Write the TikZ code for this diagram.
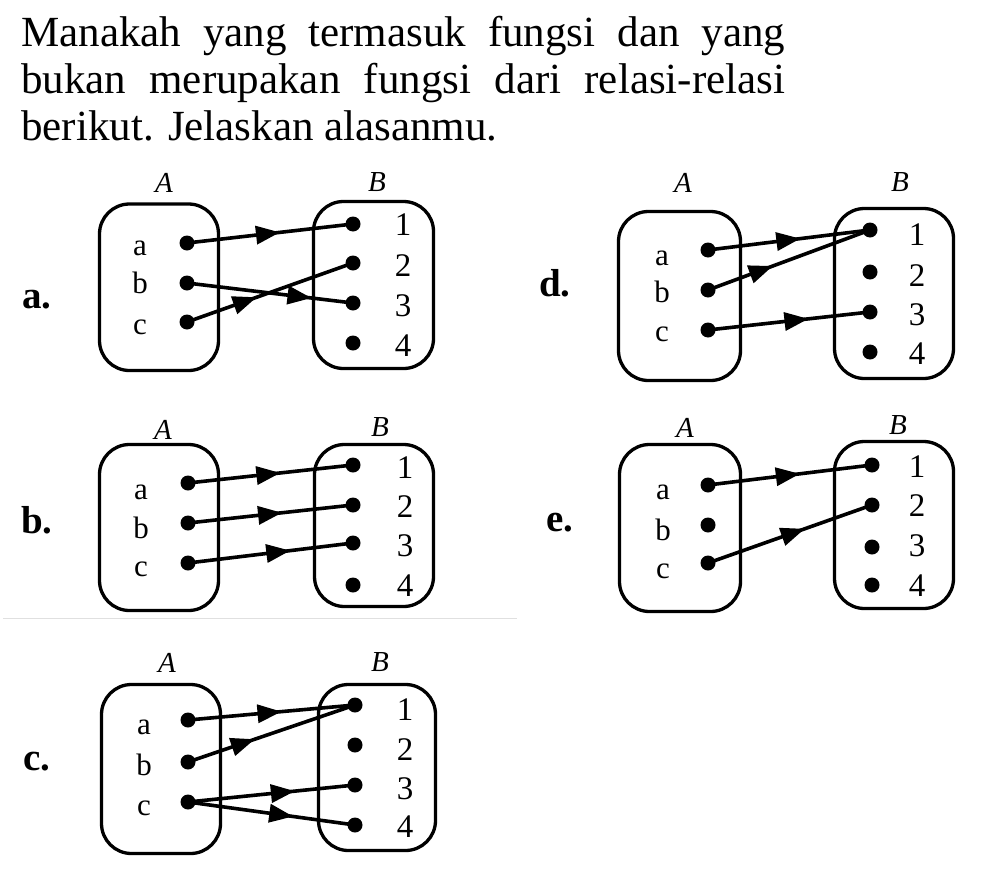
\documentclass[tikz,border=0pt]{standalone}
\usepackage{fontspec}
\setmainfont{Liberation Serif}
\usetikzlibrary{arrows.meta,decorations.markings}
\hyphenpenalty=10000
\exhyphenpenalty=10000
\begin{document}
\begin{tikzpicture}[x=1pt,y=-1pt,
  setbox/.style={draw, line width=3.3pt, rounded corners=30pt},
  dot/.style={circle, fill, inner sep=0pt, minimum size=15pt},
  lbl/.style={font=\fontsize{31}{31}\selectfont, inner sep=0pt},
  num/.style={font=\fontsize{33}{33}\selectfont, inner sep=0pt},
  setname/.style={font=\itshape\fontsize{29}{29}\selectfont, inner sep=0pt},
  item/.style={font=\bfseries\fontsize{39}{39}\selectfont, inner sep=0pt},
  mapto/.style={line width=3.6pt, postaction={decorate},
    decoration={markings, mark=at position #1 with {\arrow{Triangle[length=24pt,width=18pt]}}}}
]
\useasboundingbox[fill=white] (0,0) rectangle (1004,886);

% title
\node[anchor=north west, inner sep=0pt, text width=764pt, align=justify,
  font=\fontsize{43}{47}\selectfont] (title) at (21,16)
  {Manakah yang termasuk fungsi dan yang\linebreak bukan merupakan fungsi dari relasi-relasi\linebreak berikut. Jelaskan alasanmu.};

% faint scan line
\draw[black!12, line width=1pt] (3,618) -- (517,618);

% ---------- a ----------
\draw[setbox] (99.5,204) rectangle (218.5,370.5);
\draw[setbox] (313.5,201.5) rectangle (433.5,368.5);
\node[setname] (aA) at (164,183) {A};
\node[setname] (aB) at (377,182) {B};
\node[item] (aitem) at (37,300) {a.};
\node[lbl] (ala) at (140,248) {a};
\node[lbl] (alb) at (140,283) {b};
\node[lbl] (alc) at (140,327) {c};
\node[dot] (ada) at (187,243) {};
\node[dot] (adb) at (187,283) {};
\node[dot] (adc) at (187,322) {};
\node[dot] (ad1) at (353,224) {};
\node[dot] (ad2) at (353,263) {};
\node[dot] (ad3) at (353,303) {};
\node[dot] (ad4) at (353,343) {};
\node[num] (an1) at (403,225) {1};
\node[num] (an2) at (403,266) {2};
\node[num] (an3) at (403,306) {3};
\node[num] (an4) at (403,346) {4};
\draw[mapto=0.56] (ada.center) -- (ad1.center);
\draw[mapto=0.75] (adb.center) -- (ad3.center);
\draw[mapto=0.42] (adc.center) -- (ad2.center);

% ---------- d ----------
\draw[setbox] (618.5,211.5) rectangle (740.5,380.5);
\draw[setbox] (834.5,208.5) rectangle (953.5,378.5);
\node[setname] (dA) at (683,183) {A};
\node[setname] (dB) at (900,182) {B};
\node[item] (ditem) at (555,283) {d.};
\node[lbl] (dla) at (662,258) {a};
\node[lbl] (dlb) at (662,292) {b};
\node[lbl] (dlc) at (662,334) {c};
\node[dot] (dda) at (708,250) {};
\node[dot] (ddb) at (708,290) {};
\node[dot] (ddc) at (708,330) {};
\node[dot] (dd1) at (870,230) {};
\node[dot] (dd2) at (870,272) {};
\node[dot] (dd3) at (870,312) {};
\node[dot] (dd4) at (870,352) {};
\node[num] (dn1) at (917,235) {1};
\node[num] (dn2) at (917,276) {2};
\node[num] (dn3) at (917,315) {3};
\node[num] (dn4) at (917,354) {4};
\draw[mapto=0.57] (dda.center) -- (dd1.center);
\draw[mapto=0.40] (ddb.center) -- (dd1.center);
\draw[mapto=0.62] (ddc.center) -- (dd3.center);

% ---------- b ----------
\draw[setbox] (99.5,444.5) rectangle (218.5,610.5);
\draw[setbox] (314.5,444.5) rectangle (433.5,606.5);
\node[setname] (bA) at (163,430) {A};
\node[setname] (bB) at (380,427) {B};
\node[item] (bitem) at (37,520) {b.};
\node[lbl] (bla) at (141,492) {a};
\node[lbl] (blb) at (141,528) {b};
\node[lbl] (blc) at (141,569) {c};
\node[dot] (bda) at (188,483) {};
\node[dot] (bdb) at (188,523) {};
\node[dot] (bdc) at (188,563) {};
\node[dot] (bd1) at (353,465) {};
\node[dot] (bd2) at (353,505) {};
\node[dot] (bd3) at (353,543) {};
\node[dot] (bd4) at (353,585) {};
\node[num] (bn1) at (405,468) {1};
\node[num] (bn2) at (405,507) {2};
\node[num] (bn3) at (405,546) {3};
\node[num] (bn4) at (405,586) {4};
\draw[mapto=0.56] (bda.center) -- (bd1.center);
\draw[mapto=0.57] (bdb.center) -- (bd2.center);
\draw[mapto=0.62] (bdc.center) -- (bd3.center);

% ---------- e ----------
\draw[setbox] (619.5,444.5) rectangle (740.5,611.5);
\draw[setbox] (834.5,441.5) rectangle (953.5,608.5);
\node[setname] (eA) at (685,428) {A};
\node[setname] (eB) at (898,425) {B};
\node[item] (eitem) at (560,523) {e.};
\node[lbl] (ela) at (663,492) {a};
\node[lbl] (elb) at (663,530) {b};
\node[lbl] (elc) at (663,571) {c};
\node[dot] (eda) at (708,485) {};
\node[dot] (edb) at (708,525) {};
\node[dot] (edc) at (708,563) {};
\node[dot] (ed1) at (872,465) {};
\node[dot] (ed2) at (872,505) {};
\node[dot] (ed3) at (872,547) {};
\node[dot] (ed4) at (872,585) {};
\node[num] (en1) at (917,467) {1};
\node[num] (en2) at (917,506) {2};
\node[num] (en3) at (917,546) {3};
\node[num] (en4) at (917,586) {4};
\draw[mapto=0.56] (eda.center) -- (ed1.center);
\draw[mapto=0.59] (edc.center) -- (ed2.center);

% ---------- c ----------
\draw[setbox] (101.5,684.5) rectangle (220.5,853.5);
\draw[setbox] (318.5,684.5) rectangle (435.5,850.5);
\node[setname] (cA) at (167,663) {A};
\node[setname] (cB) at (380,662) {B};
\node[item] (citem) at (37,762) {c.};
\node[lbl] (cla) at (144,727) {a};
\node[lbl] (clb) at (144,765) {b};
\node[lbl] (clc) at (144,808) {c};
\node[dot] (cda) at (188,720) {};
\node[dot] (cdb) at (188,762) {};
\node[dot] (cdc) at (188,802) {};
\node[dot] (cd1) at (355,705) {};
\node[dot] (cd2) at (355,745) {};
\node[dot] (cd3) at (355,785) {};
\node[dot] (cd4) at (355,825) {};
\node[num] (cn1) at (405,710) {1};
\node[num] (cn2) at (405,750) {2};
\node[num] (cn3) at (405,789) {3};
\node[num] (cn4) at (405,827) {4};
\draw[mapto=0.56] (cda.center) -- (cd1.center);
\draw[mapto=0.40] (cdb.center) -- (cd1.center);
\draw[mapto=0.64] (cdc.center) -- (cd3.center);
\draw[mapto=0.63] (cdc.center) -- (cd4.center);
\end{tikzpicture}
\end{document}
